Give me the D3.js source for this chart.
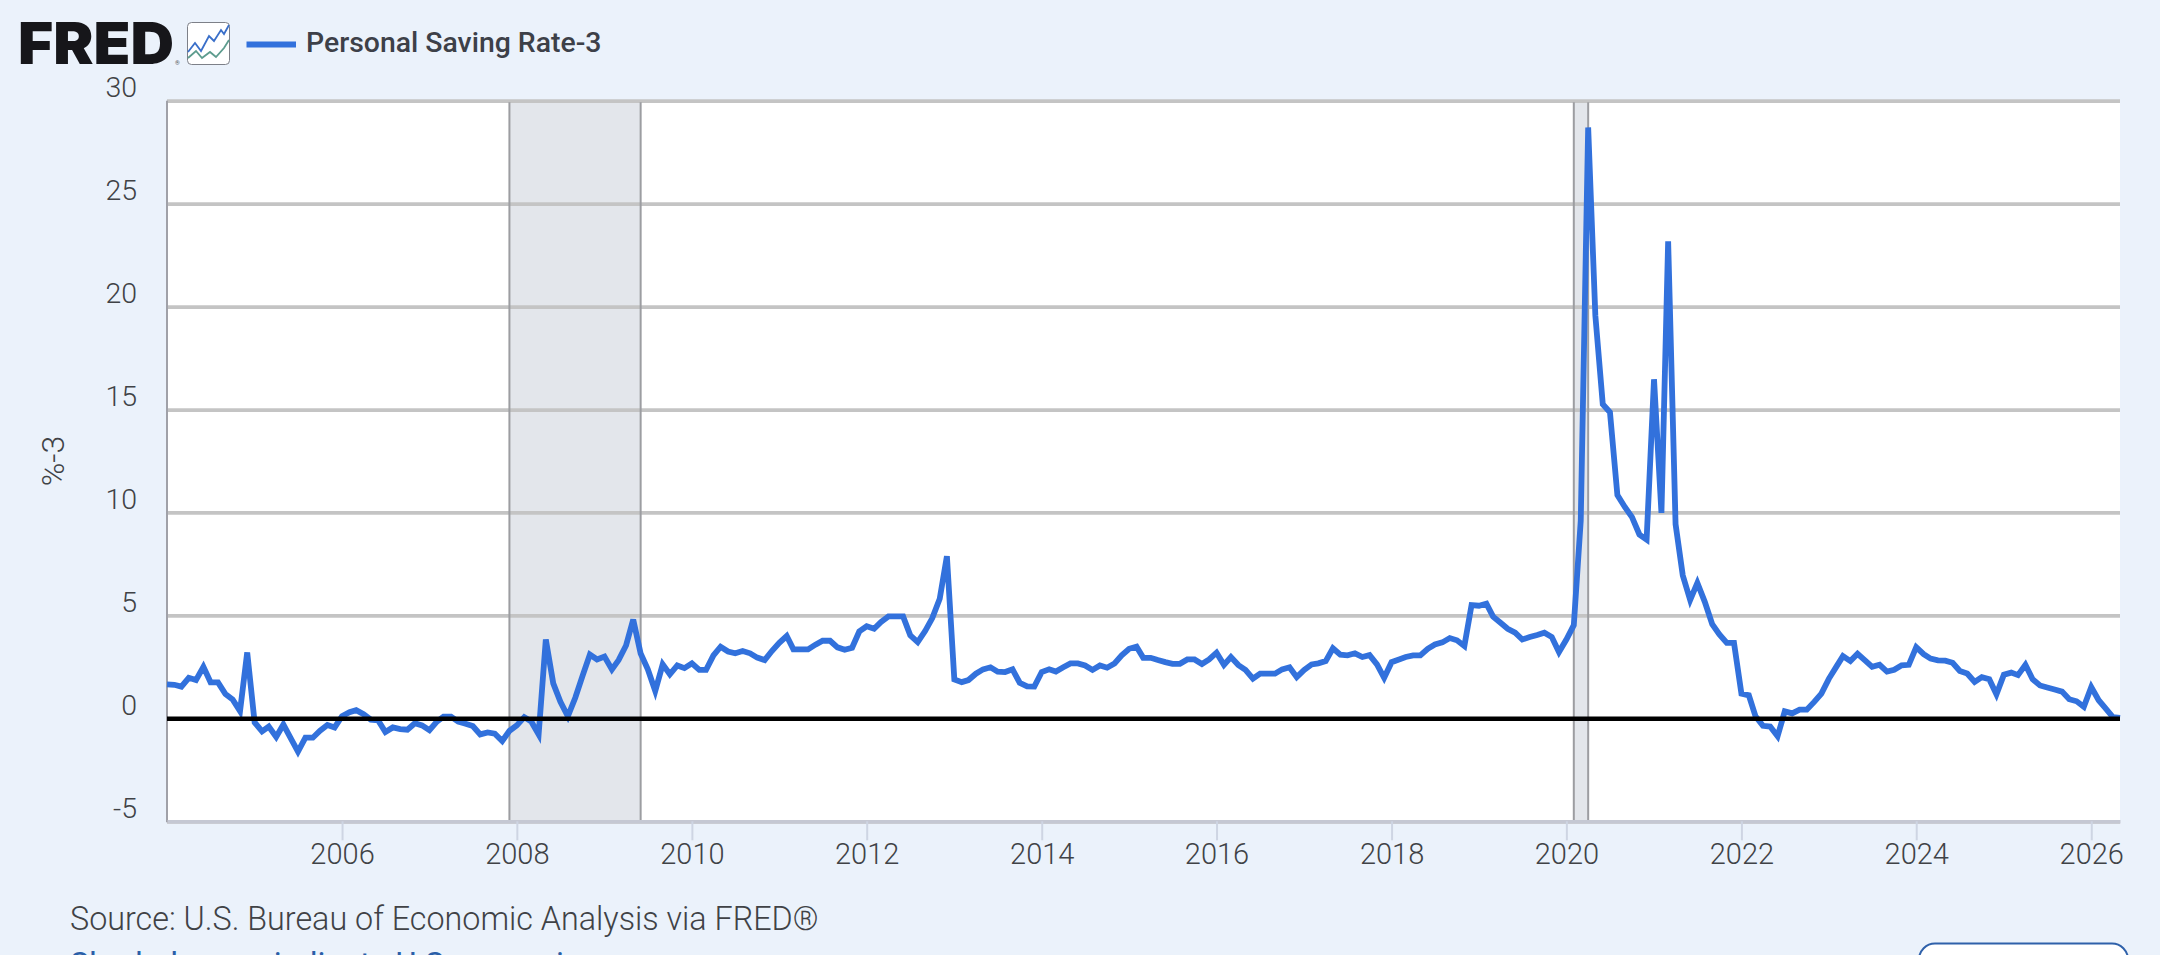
<!DOCTYPE html>
<html>
<head>
<meta charset="utf-8">
<script src="https://cdn.jsdelivr.net/npm/d3@7"></script>
<style>
  html, body { margin: 0; padding: 0; background: #ebf2fb; overflow: hidden; }
  svg { display: block; font-family: Roboto, sans-serif; }
</style>
</head>
<body>
<svg id="chart" width="2160" height="955"></svg>
<script>
// Personal saving rate less three points, monthly, one row per calendar year
const seriesName = "Personal Saving Rate-3";
const firstMonth = new Date(2004, 0, 1);
const rate2004to2009 = [
  1.65, 1.63, 1.54, 1.97, 1.86, 2.5, 1.75, 1.75, 1.18, 0.92, 0.35, 3.2,
  -0.2, -0.63, -0.4, -0.9, -0.3, -0.97, -1.62, -0.94, -0.94, -0.6, -0.32, -0.44,
  0.11, 0.3, 0.4, 0.2, -0.06, -0.1, -0.66, -0.44, -0.52, -0.55, -0.24, -0.34,
  -0.57, -0.16, 0.08, 0.08, -0.16, -0.26, -0.37, -0.78, -0.68, -0.74, -1.1, -0.61,
  -0.34, 0.06, -0.15, -0.78, 3.83, 1.7, 0.8, 0.1, 1.0, 2.05, 3.1, 2.86,
  3.0, 2.38, 2.83, 3.54, 4.8, 3.15, 2.38, 1.33, 2.62, 2.14, 2.57, 2.44
];
const rate2010to2015 = [
  2.67, 2.35, 2.35, 3.06, 3.48, 3.25, 3.16, 3.27, 3.16, 2.95, 2.83, 3.27,
  3.67, 4.0, 3.35, 3.35, 3.35, 3.58, 3.77, 3.77, 3.45, 3.33, 3.43, 4.22,
  4.47, 4.35, 4.68, 4.95, 4.95, 4.95, 4.03, 3.7, 4.24, 4.87, 5.81, 7.88,
  1.89, 1.76, 1.86, 2.17, 2.38, 2.48, 2.27, 2.25, 2.38, 1.73, 1.55, 1.54,
  2.25, 2.38, 2.27, 2.48, 2.67, 2.67, 2.57, 2.35, 2.57, 2.46, 2.67, 3.06,
  3.38, 3.48, 2.94, 2.94, 2.83, 2.73, 2.65, 2.65, 2.86, 2.86, 2.64, 2.86
];
const rate2016to2021 = [
  3.19, 2.6, 2.98, 2.59, 2.35, 1.93, 2.17, 2.17, 2.17, 2.38, 2.48, 2.0,
  2.35, 2.62, 2.67, 2.78, 3.4, 3.09, 3.06, 3.16, 2.98, 3.07, 2.62, 1.97,
  2.73, 2.86, 2.98, 3.06, 3.06, 3.38, 3.59, 3.69, 3.9, 3.79, 3.51, 5.5,
  5.47, 5.57, 4.94, 4.64, 4.35, 4.16, 3.83, 3.95, 4.05, 4.16, 3.95, 3.22,
  3.83, 4.53, 9.6, 28.7, 19.56, 15.26, 14.87, 10.85, 10.27, 9.77, 8.93, 8.68,
  16.47, 9.98, 23.17, 9.43, 6.95, 5.75, 6.58, 5.66, 4.57, 4.08, 3.67, 3.67
];
const rate2022to2026 = [
  1.2, 1.12, 0.1, -0.36, -0.4, -0.87, 0.34, 0.24, 0.42, 0.42, 0.8, 1.2,
  1.92, 2.5, 3.02, 2.78, 3.14, 2.82, 2.5, 2.6, 2.27, 2.36, 2.58, 2.6,
  3.46, 3.12, 2.9, 2.82, 2.8, 2.7, 2.3, 2.18, 1.77, 2.0, 1.9, 1.17,
  2.12, 2.22, 2.1, 2.6, 1.9, 1.6, 1.5, 1.4, 1.3, 0.93, 0.83, 0.56,
  1.52, 0.88, 0.5, 0.06, 0.02
];
const recessions = [
  [new Date(2007, 11, 1), new Date(2009, 5, 1)],
  [new Date(2020, 1, 1), new Date(2020, 3, 1)]
];
const yTicks = [-5, 0, 5, 10, 15, 20, 25, 30];
const xTickYears = [2006, 2008, 2010, 2012, 2014, 2016, 2018, 2020, 2022, 2024, 2026];
const yAxisTitle = "%-3";
const sourceNote = "Source: U.S. Bureau of Economic Analysis via FRED®";
const recessionNote = "Shaded areas indicate U.S. recessions";

const values = [...rate2004to2009, ...rate2010to2015, ...rate2016to2021, ...rate2022to2026];
const points = values.map((v, i) => ({ date: d3.timeMonth.offset(firstMonth, i), value: v }));

const plot = { left: 167, right: 2120, top: 100.7, bottom: 821.3 };
const x = d3.scaleTime()
  .domain([firstMonth, d3.timeMonth.offset(firstMonth, values.length - 1)])
  .range([plot.left, plot.right]);
const y = d3.scaleLinear().domain([-5, 30]).range([plot.bottom, plot.top]);

const svg = d3.select("#chart");
const textColor = "#404246";

// Plot background
svg.append("rect")
  .attr("x", plot.left).attr("y", plot.top)
  .attr("width", plot.right - plot.left).attr("height", plot.bottom - plot.top)
  .attr("fill", "#ffffff");

// Recession bands, under the grid
svg.append("g").selectAll("rect").data(recessions).join("rect")
  .attr("x", d => x(d[0])).attr("y", plot.top)
  .attr("width", d => x(d[1]) - x(d[0])).attr("height", plot.bottom - plot.top)
  .attr("fill", "#e3e6eb");

// Horizontal grid and value labels
const yAxis = svg.append("g")
  .attr("transform", `translate(${plot.left},0)`)
  .call(d3.axisLeft(y).tickValues(yTicks).tickSize(0).tickPadding(30).tickFormat(d => String(d)));
yAxis.select(".domain").remove();
yAxis.selectAll(".tick line")
  .attr("x2", plot.right - plot.left)
  .attr("stroke", d => d === 0 ? "none" : "#c4c4c4")
  .attr("stroke-width", 3.8);
yAxis.selectAll(".tick text")
  .attr("font-family", "Roboto, sans-serif")
  .attr("font-size", 28.5).attr("font-weight", 300)
  .attr("fill", textColor).attr("dy", -4);

// Recession borders cross over the grid
const borders = svg.append("g").attr("stroke", "#9c9da1").attr("stroke-width", 2);
recessions.forEach(r => r.forEach(d => {
  borders.append("line")
    .attr("x1", x(d)).attr("x2", x(d))
    .attr("y1", plot.top + 1.5).attr("y2", plot.bottom);
}));

// Left edge of the plot
svg.append("line")
  .attr("x1", plot.left).attr("x2", plot.left)
  .attr("y1", plot.top).attr("y2", plot.bottom + 1)
  .attr("stroke", "#a0a1a8").attr("stroke-width", 2);

// Time axis with long pale ticks
const xAxis = svg.append("g")
  .attr("transform", `translate(0,${plot.bottom})`)
  .call(d3.axisBottom(x)
    .tickValues(xTickYears.map(yr => new Date(yr, 0, 1)))
    .tickSizeInner(19).tickSizeOuter(0).tickPadding(3).tickFormat(d3.timeFormat("%Y")));
xAxis.select(".domain").attr("stroke", "#c5c8d3").attr("stroke-width", 3.6);
xAxis.selectAll(".tick line").attr("stroke", "#ced5e3").attr("stroke-width", 2);
xAxis.selectAll(".tick text")
  .attr("font-family", "Roboto, sans-serif")
  .attr("font-size", 29).attr("font-weight", 300)
  .attr("fill", textColor);

// Saving rate line
const line = d3.line().x(d => x(d.date)).y(d => y(d.value));
svg.append("path")
  .datum(points)
  .attr("d", line)
  .attr("fill", "none")
  .attr("stroke", "#3271dc")
  .attr("stroke-width", 5.8)
  .attr("stroke-linejoin", "miter");

// Zero reference line on top of the series
svg.append("line")
  .attr("x1", plot.left).attr("x2", plot.right)
  .attr("y1", y(0) + 0.4).attr("y2", y(0) + 0.4)
  .attr("stroke", "#000000").attr("stroke-width", 4.4);

// Y axis title
svg.append("text")
  .attr("transform", "translate(64,461) rotate(-90)")
  .attr("text-anchor", "middle")
  .attr("font-size", 32).attr("font-weight", 300)
  .attr("fill", textColor)
  .text(yAxisTitle);

// Logo
svg.append("text")
  .attr("x", 18).attr("y", 64)
  .attr("font-family", "Inter, sans-serif").attr("font-weight", 900)
  .attr("font-size", 58).attr("fill", "#16161a")
  .attr("textLength", 156).attr("lengthAdjust", "spacingAndGlyphs")
  .text("FRED");
svg.append("text")
  .attr("x", 175).attr("y", 65)
  .attr("font-size", 6).attr("fill", "#55565c")
  .text("®");

// Graph badge beside the logo
const badge = svg.append("g").attr("transform", "translate(187,22)");
badge.append("rect")
  .attr("x", 0.5).attr("y", 0.5).attr("width", 42).attr("height", 42).attr("rx", 4)
  .attr("fill", "#ffffff").attr("stroke", "#7d8088").attr("stroke-width", 1);
const badgeBlue = [[1, 30], [8, 21], [14, 29], [22, 14], [27, 19], [34, 8], [37, 12], [42, 3]];
const badgeGreen = [[1, 36], [9, 29], [15, 36], [23, 30], [29, 35], [37, 26], [42, 18]];
const badgeLine = d3.line();
badge.append("path").attr("d", badgeLine(badgeBlue))
  .attr("fill", "none").attr("stroke", "#3a6fc9").attr("stroke-width", 1.8);
badge.append("path").attr("d", badgeLine(badgeGreen))
  .attr("fill", "none").attr("stroke", "#5d9c8e").attr("stroke-width", 1.8);

// Legend
svg.append("line")
  .attr("x1", 246.5).attr("x2", 296).attr("y1", 44.6).attr("y2", 44.6)
  .attr("stroke", "#3271dc").attr("stroke-width", 6);
svg.append("text")
  .attr("x", 306).attr("y", 52)
  .attr("font-size", 28.4).attr("font-weight", 500)
  .attr("fill", "#3d4048")
  .text(seriesName);

// Notes under the chart
svg.append("text")
  .attr("x", 70).attr("y", 930)
  .attr("font-size", 32.3).attr("font-weight", 300)
  .attr("fill", textColor)
  .text(sourceNote);
svg.append("text")
  .attr("x", 70).attr("y", 976)
  .attr("font-size", 32.3).attr("font-weight", 400)
  .attr("fill", "#2a5fa8")
  .text(recessionNote);

// Partly visible button at the lower edge
svg.append("rect")
  .attr("x", 1919).attr("y", 943.5).attr("width", 209).attr("height", 50).attr("rx", 16)
  .attr("fill", "#ffffff").attr("stroke", "#2f61aa").attr("stroke-width", 2);
</script>
</body>
</html>
